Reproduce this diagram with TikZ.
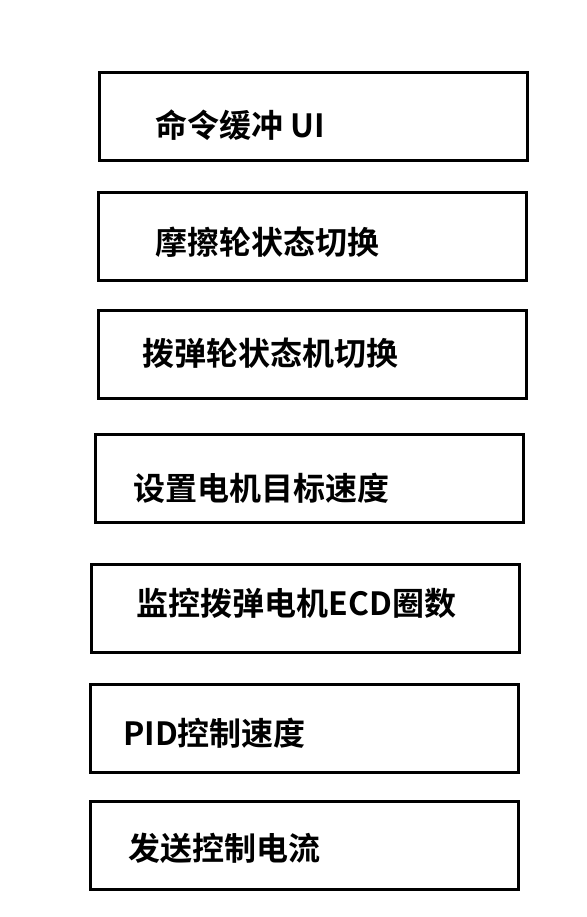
\documentclass[tikz,border=0pt]{standalone}
\usepackage{fontspec}
\setmainfont{Noto Sans CJK SC}[BoldFont={Noto Sans CJK SC Bold}]
\usetikzlibrary{positioning}

\tikzset{
  stepbox/.style={draw, line width=3pt, rectangle, minimum width=428pt, minimum height=88pt, inner sep=0pt},
  steptext/.style={anchor=base west, inner sep=0pt, font=\fontsize{32pt}{32pt}\selectfont\bfseries}
}

\begin{document}
\begin{tikzpicture}[x=1pt,y=-1pt]
  \useasboundingbox (0,0) rectangle (586,917);

  \node[stepbox] (ui)      at (313,116.5) {};
  \node[stepbox] (fric)    at (312,236.7) {};
  \node[stepbox] (trigger) at (312,354)   {};
  \node[stepbox] (target)  at (309,478.5) {};
  \node[stepbox] (ecd)     at (305.5,608) {};
  \node[stepbox] (pid)     at (304.2,728) {};
  \node[stepbox] (current) at (304.3,845.8) {};

  \node[steptext] (ui text)      at (155,137.5)   {命令缓冲 UI};
  \node[steptext] (fric text)    at (155,254) {摩擦轮状态切换};
  \node[steptext] (trigger text) at (142.7,365) {拨弹轮状态机切换};
  \node[steptext] (target text)  at (133,500.5)   {设置电机目标速度};
  \node[steptext] (ecd text)     at (136.7,615.5) {监控拨弹电机ECD圈数};
  \node[steptext] (pid text)     at (123,745.5)   {PID控制速度};
  \node[steptext] (current text) at (128,860.5)   {发送控制电流};
\end{tikzpicture}
\end{document}
